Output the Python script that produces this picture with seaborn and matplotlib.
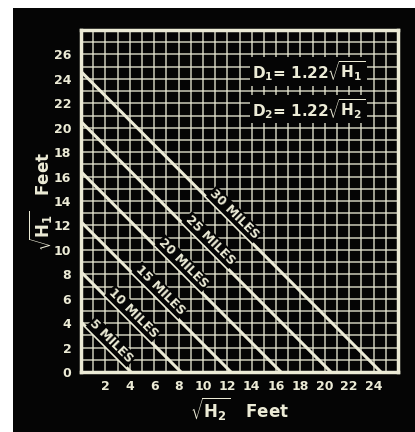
import numpy as np
import pandas as pd
import seaborn as sns
import matplotlib
matplotlib.use('agg')
import matplotlib.pyplot as plt
from matplotlib.patches import Rectangle

# distance lines: sqrt(H1) + sqrt(H2) = intercept
miles = [5, 10, 15, 20, 25, 30]
intercepts = [4.1, 8.2, 12.3, 16.4, 20.5, 24.6]
label_x = [2.5, 4.3, 6.5, 8.4, 10.6, 12.6]
x_ticks = [2, 4, 6, 8, 10, 12, 14, 16, 18, 20, 22, 24]
y_ticks = [0, 2, 4, 6, 8, 10, 12, 14, 16, 18, 20, 22, 24, 26]

cream = '#ecebd6'
black = '#050505'

sns.set_theme(style="dark", rc={
    'axes.facecolor': black,
    'figure.facecolor': 'white',
    'axes.edgecolor': cream,
    'mathtext.fontset': 'dejavusans',
})
plt.rcParams['font.family'] = ['DejaVu Sans']

fig = plt.figure(figsize=(4.15, 4.32), dpi=100)
# black card behind the chart
fig.patches.append(Rectangle((13 / 415, 0), 1, 1 - 8 / 432, transform=fig.transFigure,
                             facecolor=black, edgecolor='none', zorder=-10))
ax = fig.add_axes([81 / 415, 1 - 372 / 432, 317 / 415, 342 / 432])

rows = []
for m, c in zip(miles, intercepts):
    rows.append({'Miles': m, 'H2': 0, 'H1': c})
    rows.append({'Miles': m, 'H2': c, 'H1': 0})
lines = pd.DataFrame(rows)

sns.lineplot(data=lines, x='H2', y='H1', units='Miles', estimator=None,
             color=cream, linewidth=2.2, ax=ax, zorder=3)

ax.set_xlim(0, 26)
ax.set_ylim(0, 28)
ax.set_xticks(np.arange(0, 27, 1), minor=True)
ax.set_yticks(np.arange(0, 29, 1), minor=True)
ax.set_xticks(x_ticks)
ax.set_yticks(y_ticks)
ax.set_xticklabels([str(t) for t in x_ticks], color=cream, fontsize=9, fontweight='bold')
ax.set_yticklabels([str(t) for t in y_ticks], color=cream, fontsize=9, fontweight='bold')
ax.tick_params(which='both', length=0)
ax.tick_params(axis='x', pad=6)
ax.tick_params(axis='y', pad=7)
ax.grid(which='both', color=cream, linewidth=1.1, alpha=0.85)
ax.set_axisbelow(True)
for s in ax.spines.values():
    s.set_visible(True)
    s.set_linewidth(2.5)
    s.set_color(cream)

ax.set_xlabel(r'$\sqrt{\mathbf{H}_\mathbf{2}}$   Feet', color=cream, fontsize=12,
              fontweight='bold', labelpad=2)
ax.set_ylabel(r'$\sqrt{\mathbf{H}_\mathbf{1}}$   Feet', color=cream, fontsize=12,
              fontweight='bold', labelpad=-1)

for m, c, lx in zip(miles, intercepts, label_x):
    ax.text(lx, c - lx + 0.9, f'{m} MILES', rotation=-45, rotation_mode='anchor',
            ha='center', va='center', color=cream, fontsize=9, fontweight='bold',
            bbox=dict(facecolor=black, edgecolor='none', pad=0.8), zorder=4)

ax.text(14, 24.6, r'D$_\mathbf{1}$= 1.22$\sqrt{\mathbf{H}_\mathbf{1}}$', color=cream,
        fontsize=11, fontweight='bold', ha='left', va='center',
        bbox=dict(facecolor=black, edgecolor='none', pad=1.5), zorder=4)
ax.text(14, 21.5, r'D$_\mathbf{2}$= 1.22$\sqrt{\mathbf{H}_\mathbf{2}}$', color=cream,
        fontsize=11, fontweight='bold', ha='left', va='center',
        bbox=dict(facecolor=black, edgecolor='none', pad=1.5), zorder=4)

fig.savefig('out.png', dpi=100)
